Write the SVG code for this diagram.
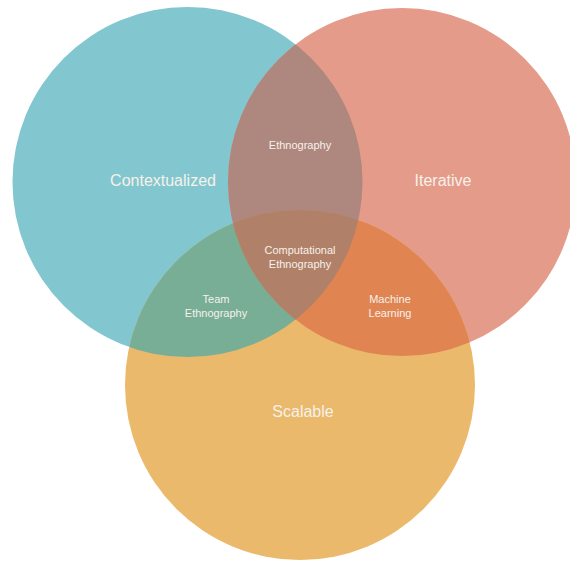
<svg xmlns="http://www.w3.org/2000/svg" xmlns:xlink="http://www.w3.org/1999/xlink" width="570" height="561" viewBox="0 0 570 561">
<style>
  .lbl { font-family: "Liberation Sans", Arial, sans-serif; fill: #F6F1EA; text-anchor: middle; }
  .big { font-size: 16px; }
  .small { font-size: 11px; }
</style>
<defs>
  <circle id="cL" cx="187.5" cy="182" r="175"/>
  <circle id="cR" cx="402" cy="182" r="174"/>
  <circle id="cB" cx="300" cy="385" r="175"/>
  <clipPath id="clipL"><use xlink:href="#cL"/></clipPath>
  <clipPath id="clipR"><use xlink:href="#cR"/></clipPath>
  <clipPath id="clipB"><use xlink:href="#cB"/></clipPath>
</defs>
<rect width="570" height="561" fill="#FFFFFF"/>
<g id="contextualized">
  <use xlink:href="#cL" fill="#82C7CF"/>
</g>
<g id="iterative">
  <use xlink:href="#cR" fill="#E59B8A"/>
</g>
<g id="scalable">
  <use xlink:href="#cB" fill="#EBB96B"/>
</g>
<g id="ethnography">
  <g clip-path="url(#clipL)"><use xlink:href="#cR" fill="#AE877E"/></g>
</g>
<g id="team-ethnography">
  <g clip-path="url(#clipL)"><use xlink:href="#cB" fill="#78AD96"/></g>
</g>
<g id="machine-learning">
  <g clip-path="url(#clipR)"><use xlink:href="#cB" fill="#E08452"/></g>
</g>
<g id="computational-ethnography">
  <g clip-path="url(#clipL)"><g clip-path="url(#clipR)"><use xlink:href="#cB" fill="#B08069"/></g></g>
</g>
<g id="labels">
  <text class="lbl big" x="163" y="185.5">Contextualized</text>
  <text class="lbl big" x="443" y="185.5">Iterative</text>
  <text class="lbl big" x="303" y="416.5">Scalable</text>
  <text class="lbl small" x="300" y="149">Ethnography</text>
  <text class="lbl small" x="300" y="254">Computational</text>
  <text class="lbl small" x="300" y="268">Ethnography</text>
  <text class="lbl small" x="216" y="303">Team</text>
  <text class="lbl small" x="216" y="317">Ethnography</text>
  <text class="lbl small" x="390" y="303">Machine</text>
  <text class="lbl small" x="390" y="317">Learning</text>
</g>
</svg>
